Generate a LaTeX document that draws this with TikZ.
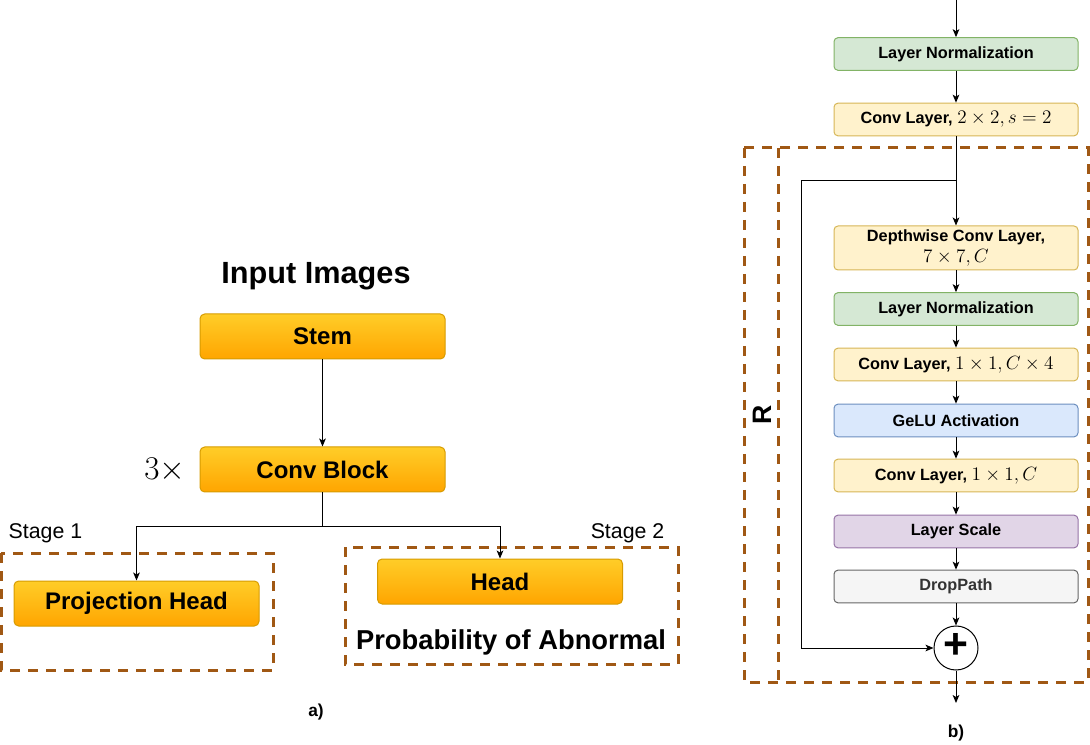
\documentclass[tikz,border=0pt]{standalone}
\usepackage{fontspec}
\setmainfont{Liberation Sans}
\usetikzlibrary{arrows.meta,shadings,calc}
\definecolor{orgtop}{RGB}{255,205,40}
\definecolor{orgbot}{RGB}{255,165,0}
\definecolor{orgline}{RGB}{215,155,0}
\definecolor{grnfill}{RGB}{213,232,212}
\definecolor{grnline}{RGB}{130,179,102}
\definecolor{ylwfill}{RGB}{255,242,204}
\definecolor{ylwline}{RGB}{214,182,86}
\definecolor{blufill}{RGB}{218,232,252}
\definecolor{bluline}{RGB}{108,142,191}
\definecolor{purfill}{RGB}{225,213,231}
\definecolor{purline}{RGB}{150,115,166}
\definecolor{gryfill}{RGB}{245,245,245}
\definecolor{gryline}{RGB}{102,102,102}
\definecolor{grytext}{RGB}{51,51,51}
\definecolor{brown}{RGB}{160,88,20}
\newcommand{\lmath}[1]{{\fontsize{13.5}{15}\selectfont$#1$}}
\tikzset{
  orangebox/.style={draw=orgline, line width=0.75pt, top color=orgtop, bottom color=orgbot,
    rounded corners=3.5pt, minimum width=183.75pt, minimum height=33.75pt, inner sep=0pt,
    font=\bfseries\fontsize{18}{20}\selectfont},
  layerbox/.style={line width=0.75pt, rounded corners=3pt, minimum width=183pt,
    minimum height=24.5pt, inner sep=0pt, align=center,
    font=\bfseries\fontsize{12.2}{14.5}\selectfont},
  greenbox/.style={layerbox, draw=grnline, fill=grnfill},
  yellowbox/.style={layerbox, draw=ylwline, fill=ylwfill},
  bluebox/.style={layerbox, draw=bluline, fill=blufill},
  purplebox/.style={layerbox, draw=purline, fill=purfill},
  graybox/.style={layerbox, draw=gryline, fill=gryfill, text=grytext},
  conn/.style={draw=black, line width=0.75pt},
  arr/.style={conn, -{Stealth[length=6pt,width=5pt,inset=1.5pt]}},
  stagebox/.style={draw=brown, line width=2.25pt, dash pattern=on 7.5pt off 6pt},
}
\begin{document}
\begin{tikzpicture}[x=0.75pt,y=-0.75pt]
\useasboundingbox (0,0) rectangle (1090,745);

% ---------- left part a) ----------
\node[font=\bfseries\fontsize{23}{26}\selectfont] (title) at (316,276) {Input Images};
\node[orangebox] (stem) at (322.5,336.5) {Stem};
\node[orangebox] (conv) at (322.5,469.5) {Conv Block};
\node[font=\fontsize{25}{28}\selectfont] (times) at (165,470) {$3\times$};
\node[orangebox] (proj) at (136.5,603.5) {Projection Head};
\node[orangebox] (head) at (500,581.5) {Head};
\coordinate (split) at (322.5,526);
\draw[stagebox] (1,553) rectangle (273,670);
\draw[stagebox] (345,547) rectangle (678,664);
\node[anchor=west, font=\fontsize{16}{18}\selectfont] (s1) at (4,533) {Stage 1};
\node[anchor=east, font=\fontsize{16}{18}\selectfont] (s2) at (669,533) {Stage 2};
\node[font=\bfseries\fontsize{20.5}{23}\selectfont] (prob) at (511,642) {Probability of Abnormal};
\node[font=\bfseries\fontsize{13}{15}\selectfont] (la) at (316,712) {a)};

\draw[arr] (stem.south) -- (conv.north);
\draw[conn] (conv.south) -- (split);
\draw[arr] (split) -| (proj.north);
\draw[arr] (split) -| (head.north);

% ---------- right part b) ----------
\coordinate (in) at (956,0);
\node[greenbox] (ln1) at (956,54) {Layer Normalization};
\node[yellowbox] (c22) at (956,119.5) {Conv Layer, \lmath{2\times 2, s=2}};
\node[yellowbox, minimum height=33pt, font=\bfseries\fontsize{12.2}{14}\selectfont] (dw) at (956,248) {Depthwise Conv Layer,\\[2pt] \lmath{7\times 7, C}};
\node[greenbox] (ln2) at (956,309) {Layer Normalization};
\node[yellowbox] (c11a) at (956,364.5) {Conv Layer, \lmath{1\times 1, C\times 4}};
\node[bluebox] (gelu) at (956,420.5) {GeLU Activation};
\node[yellowbox] (c11b) at (956,475.5) {Conv Layer, \lmath{1\times 1, C}};
\node[purplebox] (ls) at (956,531.5) {Layer Scale};
\node[graybox] (dp) at (956,586.5) {DropPath};
\node[circle, draw=black, line width=0.75pt, minimum size=33pt, inner sep=0pt] (plus) at (956,648) {};
\node[font=\bfseries\fontsize{32}{32}\selectfont] (plussign) at (956,646) {+};
\coordinate (out) at (956,703);
\coordinate (branch) at (956,181);
\coordinate (skipcorner) at (801,181);

\draw[stagebox] (744,148) rectangle (1088,682);
\draw[stagebox] (778,148) -- (778,682);
\node[rotate=90, font=\bfseries\fontsize{20}{22}\selectfont] (rlab) at (762,415) {R};
\node[font=\bfseries\fontsize{13}{15}\selectfont] (lb) at (956,733) {b)};

\draw[arr] (in) -- (ln1.north);
\draw[arr] (ln1.south) -- (c22.north);
\draw[arr] (c22.south) -- (dw.north);
\draw[arr] (dw.south) -- (ln2.north);
\draw[arr] (ln2.south) -- (c11a.north);
\draw[arr] (c11a.south) -- (gelu.north);
\draw[arr] (gelu.south) -- (c11b.north);
\draw[arr] (c11b.south) -- (ls.north);
\draw[arr] (ls.south) -- (dp.north);
\draw[arr] (dp.south) -- (plus.north);
\draw[arr] (plus.south) -- (out);
\draw[arr] (branch) -- (skipcorner) |- (plus.west);
\end{tikzpicture}
\end{document}
